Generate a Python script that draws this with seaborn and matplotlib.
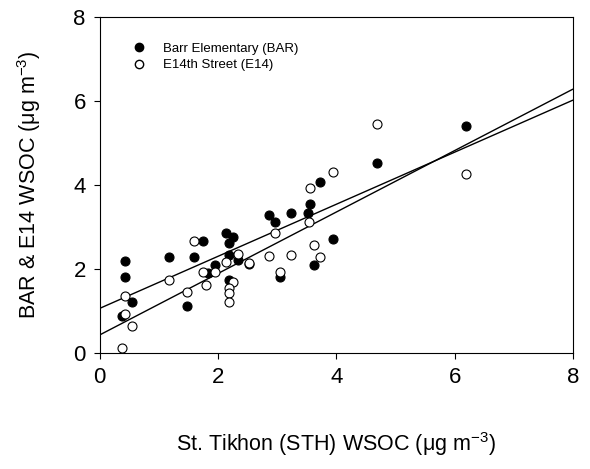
import numpy as np
import pandas as pd
import matplotlib
matplotlib.use("Agg")
import matplotlib.pyplot as plt
import seaborn as sns
from matplotlib.lines import Line2D

# STH WSOC (x) and paired site WSOC (y)
bar_x = [0.43, 0.43, 0.55, 0.38, 1.17, 1.47, 1.60, 1.75, 1.95, 1.83, 2.18, 2.18, 2.34, 2.18,
         2.53, 3.04, 2.13, 2.26, 2.87, 2.97, 3.24, 3.52, 3.55, 3.73, 3.95, 3.62, 4.69, 6.19]
bar_y = [2.20, 1.82, 1.22, 0.88, 2.28, 1.13, 2.29, 2.67, 2.10, 1.91, 2.63, 2.33, 2.21, 1.74,
         2.12, 1.80, 2.85, 2.77, 3.29, 3.12, 3.33, 3.33, 3.54, 4.08, 2.71, 2.10, 4.53, 5.41]
e14_x = [0.38, 0.43, 0.55, 0.43, 1.17, 1.47, 1.60, 1.75, 1.95, 1.80, 2.13, 2.34, 2.26, 2.18,
         2.18, 2.18, 2.53, 2.87, 3.04, 2.97, 3.53, 3.55, 3.95, 3.62, 3.73, 3.24, 4.69, 6.19]
e14_y = [0.13, 0.93, 0.64, 1.36, 1.75, 1.46, 2.67, 1.92, 1.92, 1.62, 2.18, 2.36, 1.70, 1.54,
         1.44, 1.21, 2.15, 2.31, 1.94, 2.86, 3.13, 3.94, 4.30, 2.57, 2.29, 2.33, 5.45, 4.26]
series = ["Barr Elementary (BAR)", "E14th Street (E14)"]
ticks = [0, 2, 4, 6, 8]

sns.set_theme(style="ticks")
plt.rcParams['font.family'] = ['Liberation Sans', 'DejaVu Sans']
plt.rcParams['mathtext.fontset'] = 'custom'
plt.rcParams['mathtext.rm'] = 'Liberation Sans'
plt.rcParams['mathtext.it'] = 'Liberation Sans'
plt.rcParams['text.color'] = 'black'
plt.rcParams['axes.labelcolor'] = 'black'
plt.rcParams['xtick.color'] = 'black'
plt.rcParams['ytick.color'] = 'black'

fig = plt.figure(figsize=(5.9, 4.69), dpi=100)
ax = fig.add_axes([0.169, 0.247, 0.802, 0.717])
ax.set_xlim(0, 8)
ax.set_ylim(0, 8)

sns.regplot(x=bar_x, y=bar_y, ax=ax, ci=None, truncate=False,
            scatter_kws=dict(s=42, color='black', edgecolor='black', linewidths=0.8,
                             alpha=1, zorder=3),
            line_kws=dict(color='black', lw=1.0))
sns.regplot(x=e14_x, y=e14_y, ax=ax, ci=None, truncate=False,
            scatter_kws=dict(s=42, facecolor='white', edgecolor='black', linewidths=0.8,
                             alpha=1, zorder=3),
            line_kws=dict(color='black', lw=1.0))

ax.set_xlim(0, 8)
ax.set_ylim(0, 8)
ax.set_xticks(ticks)
ax.set_yticks(ticks)
ax.tick_params(labelsize=16, length=4, width=0.8, color='black', labelcolor='black', pad=6)
for s in ax.spines.values():
    s.set_visible(True)
    s.set_color('black')
    s.set_linewidth(0.8)

ax.set_xlabel('St. Tikhon (STH) WSOC (μg m$^{-3}$)', fontsize=15.5, labelpad=30, color='black')
ax.set_ylabel('BAR & E14 WSOC (μg m$^{-3}$)', fontsize=15.5, labelpad=22, color='black')

handles = [Line2D([], [], ls='', marker='o', markersize=6, markerfacecolor='black', markeredgecolor='black'),
           Line2D([], [], ls='', marker='o', markersize=6, markerfacecolor='white', markeredgecolor='black')]
leg = ax.legend(handles, series, loc='upper left', bbox_to_anchor=(0.045, 0.94), frameon=False,
                fontsize=9.5, handletextpad=0.8, labelspacing=0.35, borderaxespad=0)
for t in leg.get_texts():
    t.set_color('black')

fig.savefig('out.png', dpi=100)
